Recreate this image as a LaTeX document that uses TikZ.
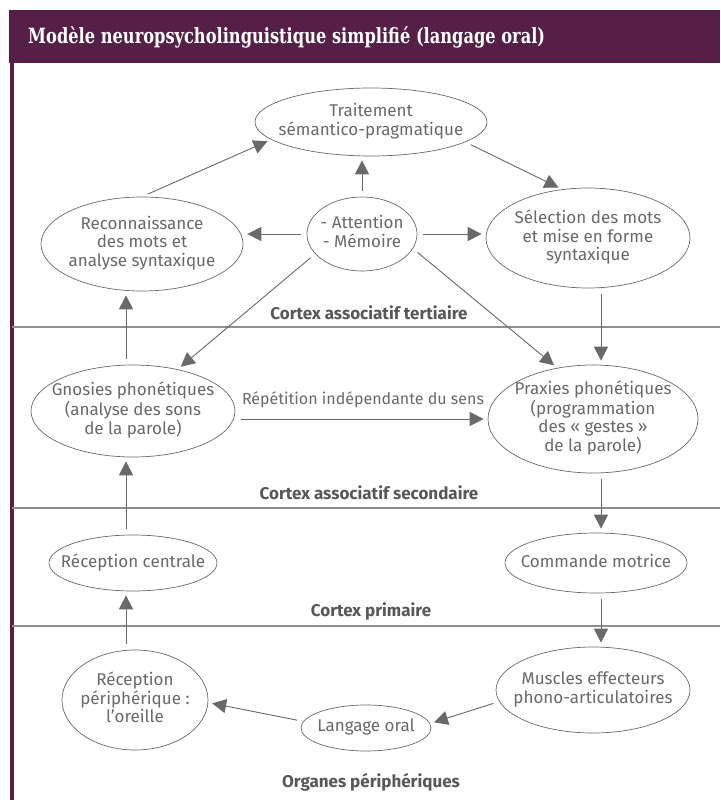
\documentclass[tikz,border=0pt]{standalone}
\usepackage{fontspec}
\setsansfont{Fira Sans}
\renewcommand{\familydefault}{\sfdefault}
\newfontfamily\titlefont{DejaVu Serif}
\usetikzlibrary{shapes,arrows.meta,positioning}

\definecolor{plum}{HTML}{561F48}
\definecolor{inkgray}{HTML}{696969}
\definecolor{rulegray}{HTML}{8E8E8E}
\definecolor{labgray}{HTML}{585858}

% centred lines, kept out of the ellipse size
\newcommand{\ctr}[1]{\makebox[0pt]{\begin{tabular}{@{}c@{}}#1\end{tabular}}}

\tikzset{
  bubble/.style={ellipse, draw=inkgray, line width=0.7pt, inner sep=0pt,
    text=inkgray, font=\fontsize{17}{17.5}\selectfont},
  layer/.style={text=labgray, font=\bfseries\fontsize{17}{19}\selectfont},
  arr/.style={draw=inkgray, line width=0.9pt, -{Triangle[length=14pt,width=14pt]},
    shorten <=6pt, shorten >=4pt},
  sepline/.style={draw=rulegray, line width=1.1pt},
}

\begin{document}
\begin{tikzpicture}[x=1pt,y=-1pt]
  \fill[white] (0,0) rectangle (720,800);
  \useasboundingbox (0,0) rectangle (720,800);

  % frame and title bar
  \fill[plum] (9,10) rectangle (720,63);
  \fill[plum] (10,63) rectangle (13.5,800);
  \node[anchor=base west, inner sep=0pt, text=white,
    font=\titlefont\bfseries\fontsize{21}{24}\selectfont] (title) at (28,43)
    {\resizebox{517pt}{\height}{Modèle neuropsycholinguistique simplifié (langage oral)}};

  % levels
  \foreach \y in {327,508,626}
    \draw[sepline] (12,\y) -- (720,\y);
  \node[layer] (tert) at (369,313) {Cortex associatif tertiaire};
  \node[layer] (sec) at (369,493) {Cortex associatif secondaire};
  \node[layer] (prim) at (371,611) {Cortex primaire};
  \node[layer] (org) at (371,782) {Organes périphériques};

  % processes
  \node[bubble, minimum width=232, minimum height=68] (trait) at (371,122)
    {\ctr{Traitement\\sémantico-pragmatique}};
  \node[bubble, minimum width=110, minimum height=74] (attn) at (362,234)
    {\ctr{- Attention\\- Mémoire}};
  \node[bubble, minimum width=202, minimum height=94] (recon) at (142,244)
    {\ctr{Reconnaissance\\des mots et\\analyse syntaxique}};
  \node[bubble, minimum width=204, minimum height=100] (select) at (588,238)
    {\ctr{Sélection des mots\\et mise en forme\\syntaxique}};
  \node[bubble, minimum width=204, minimum height=92] (gnos) at (133,411)
    {\ctr{Gnosies phonétiques\\(analyse des sons\\de la parole)}};
  \node[bubble, minimum width=210, minimum height=108] (prax) at (593,419)
    {\ctr{Praxies phonétiques\\(programmation\\des «~gestes~»\\de la parole)}};
  \node[bubble, minimum width=168, minimum height=56] (recc) at (133,563)
    {\ctr{Réception centrale}};
  \node[bubble, minimum width=182, minimum height=60] (cmd) at (596,563)
    {\ctr{Commande motrice}};
  \node[bubble, minimum width=146, minimum height=100] (recp) at (135,700)
    {\ctr{Réception\\périphérique~:\\l'oreille}};
  \node[bubble, minimum width=130, minimum height=46] (lang) at (366,728)
    {\ctr{Langage oral}};
  \node[bubble, minimum width=194, minimum height=86] (musc) at (593,690)
    {\ctr{Muscles effecteurs\\phono-articulatoires}};
  \node[text=inkgray, font=\fontsize{16}{17}\selectfont] (rep) at (363,400)
    {Répétition indépendante du sens};

  \coordinate (lcol) at (126,0);
  \coordinate (rcol) at (601,0);

  % flows
  \draw[arr] (recon.north) -- (trait.190);
  \draw[arr] (attn.north) -- (attn.north |- trait.south);
  \draw[arr] (trait.-12) -- (select.118);
  \draw[arr] (attn.west) -- (attn.west -| recon.east);
  \draw[arr] (attn.east) -- (attn.east -| select.west);
  \draw[arr] (attn.203) -- (gnos.43);
  \draw[arr] (attn.-16) -- (prax.125);
  \draw[arr] (select.south -| rcol) -- (prax.north -| rcol);
  \draw[arr] (gnos.east |- prax.west) -- (prax.west);
  \draw[arr] (prax.south -| rcol) -- (cmd.north -| rcol);
  \draw[arr] (cmd.south -| rcol) -- (musc.north -| rcol);
  \draw[arr] (musc.187) -- (lang.4);
  \draw[arr] (lang.174) -- (recp.-2);
  \draw[arr] (recp.north -| lcol) -- (recc.south -| lcol);
  \draw[arr] (recc.north -| lcol) -- (gnos.south -| lcol);
  \draw[arr] (gnos.north -| lcol) -- (recon.south -| lcol);
\end{tikzpicture}
\end{document}
